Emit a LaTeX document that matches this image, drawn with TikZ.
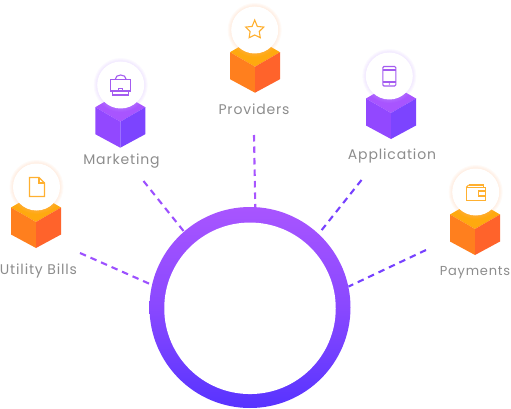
\documentclass[tikz,border=0pt]{standalone}
\usepackage{fontspec}
\setmainfont{Poppins}[LetterSpace=6]
\definecolor{ofTop}{HTML}{FFA90F}
\definecolor{ofLeft}{HTML}{FF7F1E}
\definecolor{ofRight}{HTML}{FF632B}
\definecolor{ofHalo}{HTML}{FFB98A}
\definecolor{ofIcon}{HTML}{FFB030}
\definecolor{pfTop}{HTML}{A855FF}
\definecolor{pfLeft}{HTML}{9248FF}
\definecolor{pfRight}{HTML}{7C44FF}
\definecolor{pfHalo}{HTML}{C9A6FF}
\definecolor{pfIcon}{HTML}{A45CF0}
\definecolor{ringTop}{HTML}{A855FF}
\definecolor{ringBot}{HTML}{5733FF}
\definecolor{labelGray}{HTML}{8C8C8C}
\tikzset{
  x=1pt,y=-1pt,
  cubelabel/.style={text=labelGray,font=\fontsize{14}{16}\selectfont,inner sep=0pt,anchor=base},
  badge/.style={circle,fill=white,minimum size=47pt,inner sep=0pt},
  icon/.style={line width=1.1pt,line join=miter,fill=none},
  spoke/.style={line width=2.1pt,dash pattern=on 6.5pt off 5pt},
}
% #1 name, #2,#3 cube middle vertex, #4 top, #5 left, #6 right, #7 halo, #8,#9 badge centre
\newcommand{\cubeBadge}[9]{%
  \fill[#4] (#2-25,#3-14.5) -- (#2,#3-29) -- (#2+25,#3-14.5) -- (#2,#3) -- cycle;
  \fill[#5] (#2-25,#3-14.5) -- (#2,#3) -- (#2,#3+26) -- (#2-25,#3+12.5) -- cycle;
  \fill[#6] (#2+25,#3-14.5) -- (#2,#3) -- (#2,#3+26) -- (#2+25,#3+12.5) -- cycle;
  \foreach \r in {24,25,26,27}{\fill[#7,opacity=.07] (#8,#9) circle[radius=\r];}
  \node[badge] (#1) at (#8,#9) {};
}
\begin{document}
\begin{tikzpicture}
\useasboundingbox (0,0) rectangle (511,409);
% ring
\node[circle,minimum size=201pt,inner sep=0pt,top color=ringTop,bottom color=ringBot,middle color=ringTop!62!ringBot] (ring) at (250,307.5) {};
\node[circle,minimum size=171.5pt,inner sep=0pt,fill=white] (hole) at (250,308.3) {};
% spokes
\coordinate (s1) at (80,253);
\coordinate (s2) at (143.5,181);
\coordinate (s3) at (254,135);
\coordinate (s4) at (361.5,180);
\coordinate (s5) at (426,250);
\draw[spoke,color=ringTop!85!ringBot] (s1) -- (ring.167.6);
\draw[spoke,color=ringTop!85!ringBot] (s2) -- (ring.131.8);
\draw[spoke,color=ringTop] (s3) -- (ring.87.8);
\draw[spoke,color=ringTop!40!ringBot] (s4) -- (ring.47);
\draw[spoke,color=ringTop!40!ringBot] (s5) -- (ring.12.6);
% cubes
\cubeBadge{b1}{36}{222}{ofTop}{ofLeft}{ofRight}{ofHalo}{36.5}{187}
\cubeBadge{b2}{120.3}{121.7}{pfTop}{pfLeft}{pfRight}{pfHalo}{120.7}{85}
\cubeBadge{b3}{255}{66.7}{ofTop}{ofLeft}{ofRight}{ofHalo}{254.7}{30}
\cubeBadge{b4}{391}{113}{pfTop}{pfLeft}{pfRight}{pfHalo}{389.3}{76}
\cubeBadge{b5}{475}{229}{ofTop}{ofLeft}{ofRight}{ofHalo}{475.7}{192}
% document icon
\begin{scope}[shift={(36.5,187)},icon,draw=ofIcon]
\draw (-7,-9.5) -- (2.5,-9.5) -- (8,-4) -- (8,9.5) -- (-7,9.5) -- cycle;
\draw (2.5,-9.5) -- (2.5,-4) -- (8,-4);
\end{scope}
% briefcase icon
\begin{scope}[shift={(120.7,85)},icon,draw=pfIcon]
\draw (-10,-5.5) -- (10,-5.5) -- (10,6) -- (-10,6) -- cycle;
\draw (-8,6) -- (-8,10) -- (8,10) -- (8,6);
\draw (-5.5,-5.5) .. controls (-5.5,-11.5) and (5.5,-11.5) .. (5.5,-5.5);
\draw[line width=.8pt] (-2,3.2) rectangle (2,5.2);
\end{scope}
% star icon
\begin{scope}[shift={(254.7,30)},icon,draw=ofIcon]
\draw (270:10) -- (306:4.4) -- (342:9.5) -- (18:4.8) -- (54:9.5) -- (90:5) -- (126:9.5) -- (162:4.8) -- (198:9.5) -- (234:4.4) -- cycle;
\end{scope}
% phone icon
\begin{scope}[shift={(389.3,76)},icon,draw=pfIcon]
\draw[rounded corners=1.2pt] (-6.5,-9.5) rectangle (6.5,10);
\draw (-6.5,-6) -- (6.5,-6);
\draw (-6.5,6) -- (6.5,6);
\fill[pfIcon] (0,8) circle[radius=.8];
\end{scope}
% wallet icon
\begin{scope}[shift={(475.7,192)},icon,draw=ofIcon]
\draw (-7,-7) -- (8,-7) -- (8,-4.5);
\draw (-9.5,-4.5) -- (-9.5,8.5) -- (9.5,8.5) -- (9.5,4);
\draw (-9.5,-4.5) -- (-7,-7);
\draw (-9.5,-4.5) -- (9.5,-4.5) -- (9.5,-1);
\draw (9.5,-1) -- (3,-1) -- (3,4) -- (9.5,4) -- cycle;
\end{scope}
% labels
\node[cubelabel] (l1) at (38.5,274) {Utility Bills};
\node[cubelabel] (l2) at (121.5,164.5) {Marketing};
\node[cubelabel] (l3) at (254,114) {Providers};
\node[cubelabel] (l4) at (392,159.5) {Application};
\node[cubelabel,font=\fontsize{13}{16}\selectfont] (l5) at (475,275.5) {Payments};
\end{tikzpicture}
\end{document}
